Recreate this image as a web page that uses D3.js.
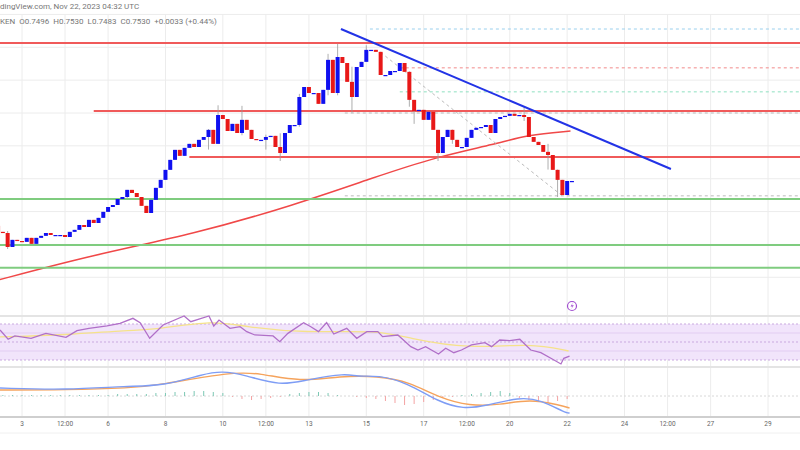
<!DOCTYPE html>
<html><head><meta charset="utf-8">
<script src="https://cdn.jsdelivr.net/npm/d3@7"></script>
<style>body{margin:0;background:#fff}svg{display:block}</style>
</head><body>
<svg id="c" width="800" height="450"></svg>
<script>
// ---------- data ----------
const firstCandle = "2023-11-02T00:00:00Z"; // 4h candles
const firstOpen = 0.7380;
const closes = [0.7373,0.7352,0.7348,0.7299,0.7324,0.7320,0.7317,0.7331,0.7310,0.7331,0.7338,0.7348,0.7341,0.7341,0.7341,0.7334,0.7352,0.7359,0.7376,0.7369,0.7394,0.7383,0.7401,0.7422,0.7439,0.7446,0.7467,0.7474,0.7499,0.7488,0.7474,0.7443,0.7418,0.7464,0.7506,0.7534,0.7569,0.7604,0.7639,0.7618,0.7646,0.7660,0.7649,0.7674,0.7684,0.7709,0.7660,0.7761,0.7747,0.7705,0.7730,0.7698,0.7744,0.7709,0.7677,0.7674,0.7674,0.7684,0.7688,0.7649,0.7628,0.7698,0.7726,0.7726,0.7824,0.7859,0.7838,0.7838,0.7800,0.7849,0.7954,0.7838,0.7964,0.7943,0.7877,0.7824,0.7929,0.7947,0.7989,0.7989,0.7982,0.7901,0.7901,0.7915,0.7915,0.7943,0.7912,0.7814,0.7775,0.7779,0.7744,0.7772,0.7709,0.7628,0.7684,0.7709,0.7674,0.7649,0.7649,0.7681,0.7709,0.7716,0.7719,0.7726,0.7698,0.7747,0.7754,0.7758,0.7765,0.7758,0.7761,0.7754,0.7684,0.7667,0.7656,0.7632,0.7621,0.7569,0.7534,0.7481,0.7530,0.7530];
// notable wicks: [candleIndex, high, low]
const wicks = [[3,0.7355,0.7292],[28,0.7498,0.7470],[45,0.7712,0.7640],[47,0.7795,0.7660],[52,0.7793,0.7690],[57,0.7692,0.7640],[60,0.7697,0.7600],[64,0.7835,0.7720],[70,0.7975,0.7830],[72,0.8010,0.7830],[75,0.7930,0.7770],[78,0.8005,0.7960],[87,0.7914,0.7790],[88,0.7780,0.7730],[93,0.7709,0.7600],[96,0.7710,0.7660],[111,0.7790,0.7740],[116,0.7660,0.7570],[118,0.7570,0.7474]];
const ma100 = [[-0.4,0.7177],[20.7,0.7271],[41.9,0.7344],[63,0.7446],[79.9,0.7544],[92.6,0.7614],[105.3,0.7660],[111.6,0.7691],[120.7,0.7705]];
const trendline = [[72.7,0.8062],[141.7,0.7572]];
const redLevels = [[0.8013,null],[0.7775,"2023-11-05T12:00:00Z"],[0.7614,"2023-11-08T20:00:00Z"]];
const greenLevels = [0.7467,0.7306,0.7226];
const dashedLevels = [[0.8062,"2023-11-15T03:00:00Z","#9ad0ee"],[0.7926,"2023-11-16T04:00:00Z","#f28a8a"],[0.7842,"2023-11-16T04:00:00Z","#8ee0c0"],[0.7768,"2023-11-14T06:00:00Z","#bbbbbb"],[0.7478,"2023-11-14T06:00:00Z","#bbbbbb"]];
const diagDash = [[81,0.7980],[119,0.7478]];
const rsi = [[1.4,63.3],[3.1,53.0],[4.5,56.7],[7.9,54.1],[11,59.6],[15.2,55.2],[17.5,62.6],[20,65.2],[23.8,67.8],[26.5,70.7],[29.2,76.3],[30.7,71.5],[32.7,54.1],[35.5,68.9],[39.9,78.9],[41.3,72.6],[45.1,78.9],[46.1,67.8],[47.2,74.4],[49.5,65.2],[51.6,67.0],[53,61.5],[54.7,57.8],[58.5,56.7],[59.9,50.4],[61.6,59.6],[64.9,71.5],[66.4,67.0],[68,61.5],[69.7,71.5],[71.2,58.9],[73.9,65.2],[76,54.1],[78.1,61.5],[80.4,61.5],[81.4,55.9],[84.6,57.8],[87.3,44.8],[88.8,41.1],[90.4,44.8],[93.1,36.7],[94.6,43.0],[96.3,38.1],[97.9,41.1],[100,46.7],[102.8,49.3],[104.2,44.8],[105.9,52.2],[108,51.5],[110.1,53.0],[112.4,41.1],[114.5,38.1],[116.6,31.9],[118.7,25.6],[119.3,31.9],[120.5,34.4]];
const rsiMa = [[1.4,55.6],[15.2,57.8],[28.6,63.3],[33.4,63.3],[46.1,74.4],[52.6,66.7],[65.3,60],[80.4,63.3],[86.7,54.4],[99.4,42.2],[112.4,48.9],[120.3,40]];
const macd = [[1.4,8],[15.2,6],[28.2,10],[35.5,10],[44,22],[47.8,25],[52.6,21],[60.1,10],[65.3,16],[73.9,23],[76,19],[80.4,21],[86.7,13],[93.1,-6],[98.4,-13],[102.8,-10],[110.1,-1],[114.5,-4],[119.7,-17],[120.5,-17]];
const signal = [[1.4,6],[15.2,6],[28.6,8],[34.8,11],[49.5,24],[55.7,23],[64.1,14],[72.5,20],[80.4,20],[87.1,14],[93.3,-2],[99.6,-10],[105.9,-9],[112.2,-3],[118.4,-9],[120.5,-12]];
const hist = [1,1,1,1,1,1,1,1,1,1,1,1,2,2,2,2,3,3,4,4,5,5,4,3,-1,-3,-4,-3,-2,-1,2,3,4,4,3,1,0,-1,-2,-3,-5,-7,-9,-8,-6,-4,-2,-1,1,2,3,4,5,3,-2,-4,-6,-7,-5,-3];
const tickDates = ["2023-11-03T00:00:00Z","2023-11-04T12:00:00Z","2023-11-06T00:00:00Z","2023-11-08T00:00:00Z","2023-11-10T00:00:00Z","2023-11-11T12:00:00Z","2023-11-13T00:00:00Z","2023-11-15T00:00:00Z","2023-11-17T00:00:00Z","2023-11-18T12:00:00Z","2023-11-20T00:00:00Z","2023-11-22T00:00:00Z","2023-11-24T00:00:00Z","2023-11-25T12:00:00Z","2023-11-27T00:00:00Z","2023-11-29T00:00:00Z"];
const tickLabels = ["3","12:00","6","8","10","12:00","13","15","17","12:00","20","22","24","12:00","27","29"];
const priceGrid = [0.8113,0.7998,0.7883,0.7768,0.7653,0.7538,0.7423,0.7308,0.7193];
const title1 = "dingView.com, Nov 22, 2023 04:32 UTC";
const title2 = "KEN  O0.7496  H0.7530  L0.7483  C0.7530  +0.0033 (+0.44%)";

// ---------- scales ----------
const svg = d3.select("#c");
const t0 = new Date(firstCandle);
const tIdx = i => new Date(t0.getTime() + i*4*3600e3);
const x = d3.scaleUtc().domain([new Date("2023-11-03T00:00:00Z"), new Date("2023-11-29T00:00:00Z")]).range([22, 768]);
const xi = i => x(tIdx(i));
const y = d3.scaleLinear().domain([0.7054, 0.81635]).range([317, 0]);
const yR = d3.scaleLinear().domain([30, 70]).range([360, 324]);
const yM = d3.scaleLinear().domain([-20, 30]).range([416, 366]);
const W = 800;

// grid
const g = svg.append("g");
g.selectAll(".vg").data(tickDates).join("line").attr("x1",d=>x(new Date(d))).attr("x2",d=>x(new Date(d))).attr("y1",14).attr("y2",417).attr("stroke","#ececec");
g.selectAll(".hg").data(priceGrid).join("line").attr("x1",0).attr("x2",W).attr("y1",d=>y(d)).attr("y2",d=>y(d)).attr("stroke","#ececec");
[316,367].forEach(v=>g.append("line").attr("x1",0).attr("x2",W).attr("y1",v).attr("y2",v).attr("stroke","#e4e4e4").attr("stroke-width",2));

// RSI pane
svg.append("rect").attr("x",0).attr("y",yR(70)).attr("width",W).attr("height",yR(30)-yR(70)).attr("fill","#f1e4fb");
[70,50,30].forEach(v=>svg.append("line").attr("x1",0).attr("x2",W).attr("y1",yR(v)).attr("y2",yR(v)).attr("stroke","#c9a9df").attr("stroke-dasharray","2,2"));
svg.append("line").attr("x1",0).attr("x2",W).attr("y1",yR(60)).attr("y2",yR(60)).attr("stroke","#e2cdf2");
svg.append("line").attr("x1",0).attr("x2",W).attr("y1",yR(40)).attr("y2",yR(40)).attr("stroke","#e2cdf2");
const lR = d3.line().x(d=>xi(d[0])).y(d=>yR(d[1]));
svg.append("path").attr("d",d3.line().curve(d3.curveBasis).x(d=>xi(d[0])).y(d=>yR(d[1]))(rsiMa)).attr("fill","none").attr("stroke","#f5e28a").attr("stroke-width",1.3);
svg.append("path").attr("d",lR(rsi)).attr("fill","none").attr("stroke","#b06fc8").attr("stroke-width",1.3);

// MACD pane
svg.append("line").attr("x1",0).attr("x2",W).attr("y1",yM(0)).attr("y2",yM(0)).attr("stroke","#d8d8d8").attr("stroke-dasharray","2,2");
svg.selectAll(".h").data(hist).join("line").attr("x1",(d,i)=>xi(2+i*2)).attr("x2",(d,i)=>xi(2+i*2))
  .attr("y1",yM(0)).attr("y2",d=>yM(d)).attr("stroke",d=>d>=0?"#7cc8b4":"#f4a3a3").attr("stroke-width",1);
const lM = d3.line().curve(d3.curveBasis).x(d=>xi(d[0])).y(d=>yM(d[1]));
svg.append("path").attr("d",lM(signal)).attr("fill","none").attr("stroke","#f5a35c").attr("stroke-width",1.4);
svg.append("path").attr("d",lM(macd)).attr("fill","none").attr("stroke","#7e9df5").attr("stroke-width",1.4);

// axis
svg.append("line").attr("x1",0).attr("x2",W).attr("y1",417).attr("y2",417).attr("stroke","#cfcfcf").attr("stroke-width",2);
svg.selectAll(".tl").data(tickDates).join("text").attr("x",d=>x(new Date(d))).attr("y",426)
  .attr("text-anchor","middle").attr("font-family","Roboto, sans-serif").attr("font-size",6.5).attr("fill","#666").text((d,i)=>tickLabels[i]);
svg.append("line").attr("x1",0).attr("x2",W).attr("y1",433).attr("y2",433).attr("stroke","#f0f0f0");

// price overlays
svg.append("path").attr("d",d3.line().curve(d3.curveBasis).x(d=>xi(d[0])).y(d=>y(d[1]))(ma100)).attr("fill","none").attr("stroke","#f04848").attr("stroke-width",1.5);
dashedLevels.forEach(d=>svg.append("line").attr("x1",x(new Date(d[1]))).attr("x2",W).attr("y1",y(d[0])).attr("y2",y(d[0])).attr("stroke",d[2]).attr("stroke-dasharray","3,3"));
svg.append("line").attr("x1",xi(diagDash[0][0])).attr("y1",y(diagDash[0][1])).attr("x2",xi(diagDash[1][0])).attr("y2",y(diagDash[1][1])).attr("stroke","#bbb").attr("stroke-dasharray","3,3");
redLevels.forEach(d=>svg.append("line").attr("x1",d[1]?x(new Date(d[1])):0).attr("x2",W).attr("y1",y(d[0])).attr("y2",y(d[0])).attr("stroke","#f05a5a").attr("stroke-width",2));
greenLevels.forEach(v=>svg.append("line").attr("x1",0).attr("x2",W).attr("y1",y(v)).attr("y2",y(v)).attr("stroke","#7fcc7f").attr("stroke-width",2));

// candles
const candles = closes.map((c,i)=>{const o=i?closes[i-1]:firstOpen;let h=Math.max(o,c),l=Math.min(o,c);const w=wicks.find(q=>q[0]===i);if(w){h=Math.max(h,w[1]);l=Math.min(l,w[2]);}return {i,o,c,h,l};});
const cg = svg.append("g");
cg.selectAll(".w").data(candles).join("line").attr("x1",d=>xi(d.i)).attr("x2",d=>xi(d.i)).attr("y1",d=>y(d.h)).attr("y2",d=>y(d.l)).attr("stroke","#999").attr("stroke-width",0.8);
cg.selectAll(".b").data(candles).join("rect").attr("x",d=>xi(d.i)-2).attr("width",4)
  .attr("y",d=>y(Math.max(d.o,d.c))).attr("height",d=>Math.max(1.2,Math.abs(y(d.o)-y(d.c))))
  .attr("fill",d=>d.c>=d.o?"#1010f0":"#e81818");

// trendline
svg.append("line").attr("x1",xi(trendline[0][0])).attr("y1",y(trendline[0][1])).attr("x2",xi(trendline[1][0])).attr("y2",y(trendline[1][1])).attr("stroke","#2233e6").attr("stroke-width",2);

// icon
svg.append("circle").attr("cx",572).attr("cy",306).attr("r",4.5).attr("fill","#fff").attr("stroke","#a24fd0").attr("stroke-width",1.2);
svg.append("path").attr("d","M573,302.5 L570.5,306.5 L572.5,306.5 L571,309.5 L573.8,305.3 L571.8,305.3 Z").attr("fill","#a24fd0");

// header
svg.append("text").attr("x",0).attr("y",9).attr("font-family","Roboto, sans-serif").attr("font-size",8).attr("fill","#777").text(title1);
svg.append("text").attr("x",0).attr("y",24).attr("font-family","Roboto, sans-serif").attr("font-size",8).attr("fill","#777").attr("xml:space","preserve").text(title2);
</script>
</body></html>
